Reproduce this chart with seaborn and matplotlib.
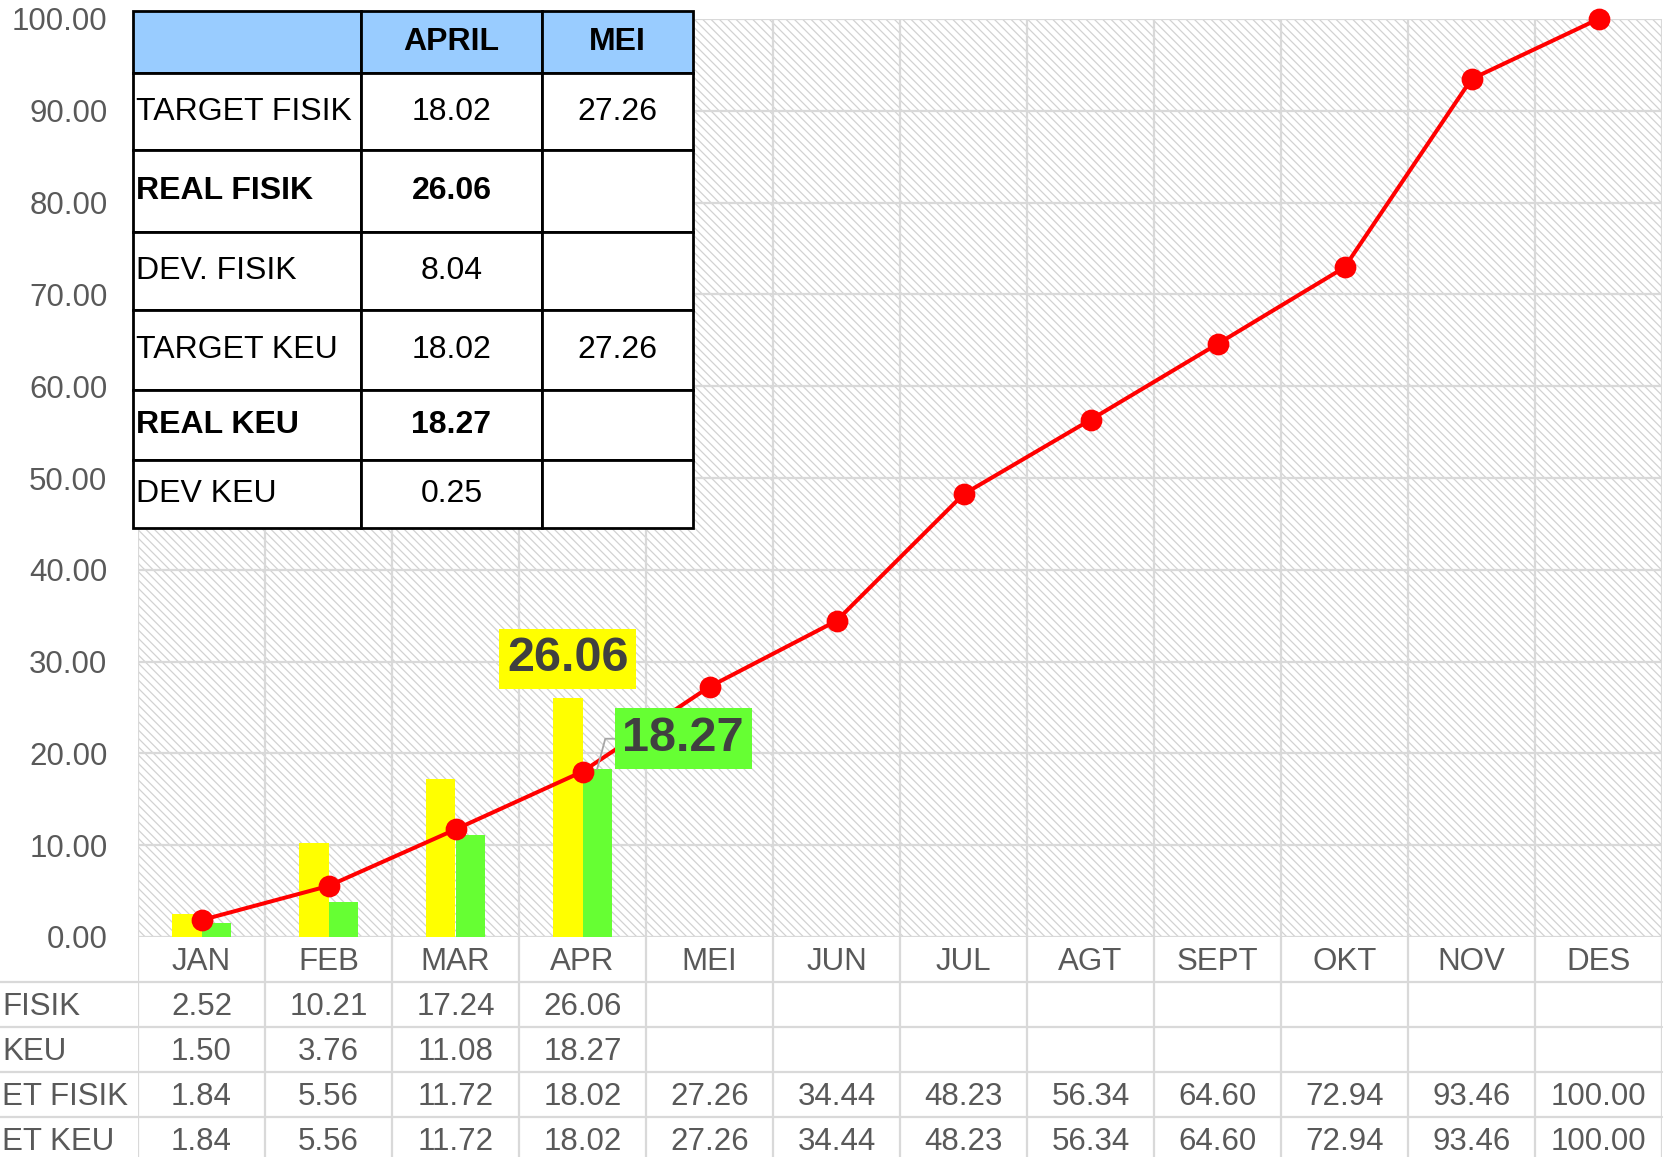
import numpy as np
import pandas as pd
import matplotlib
matplotlib.use("Agg")
import matplotlib.pyplot as plt
import matplotlib.transforms as mtransforms
from matplotlib.patches import Rectangle
from matplotlib.lines import Line2D
from matplotlib.table import Table
import seaborn as sns

# data
months = ["JAN", "FEB", "MAR", "APR", "MEI", "JUN", "JUL", "AGT", "SEPT", "OKT", "NOV", "DES"]
real_fisik = [2.52, 10.21, 17.24, 26.06]
real_keu = [1.50, 3.76, 11.08, 18.27]
target_fisik = [1.84, 5.56, 11.72, 18.02, 27.26, 34.44, 48.23, 56.34, 64.60, 72.94, 93.46, 100.00]
target_keu = [1.84, 5.56, 11.72, 18.02, 27.26, 34.44, 48.23, 56.34, 64.60, 72.94, 93.46, 100.00]
row_labels = ["FISIK", "KEU", "ET FISIK", "ET KEU"]

# summary box in the top left corner
summary_cols = ["", "APRIL", "MEI"]
summary_rows = ["TARGET FISIK", "REAL FISIK", "DEV. FISIK", "TARGET KEU", "REAL KEU", "DEV KEU"]
summary_april = ["18.02", "26.06", "8.04", "18.02", "18.27", "0.25"]
summary_mei = ["27.26", "", "", "27.26", "", ""]
bold_rows = ["REAL FISIK", "REAL KEU"]

sns.set_theme(style="white")
plt.rcParams["font.family"] = ["Liberation Sans", "DejaVu Sans"]
plt.rcParams["hatch.linewidth"] = 0.9

W, H = 1666, 1157
grid_c = "#D9D9D9"
txt_c = "#595959"
fs = 22.5

fig = plt.figure(figsize=(W / 100, H / 100), dpi=100)
fig.patch.set_facecolor("white")

# main chart area
ax = fig.add_axes([138 / W, 1 - 937 / H, 1524 / W, 918 / H])
ax.add_patch(Rectangle((0, 0), 1, 1, transform=ax.transAxes, facecolor="white",
                       edgecolor="#D2D2D2", hatch="\\\\\\\\", lw=0, zorder=0.2))

bars = pd.DataFrame({
    "month": months[:len(real_fisik)] * 2,
    "seri": ["FISIK"] * len(real_fisik) + ["KEU"] * len(real_keu),
    "nilai": real_fisik + real_keu,
})
sns.barplot(data=bars, x="month", y="nilai", hue="seri", order=months,
            hue_order=["FISIK", "KEU"], palette={"FISIK": "#FFFF00", "KEU": "#66FF33"},
            saturation=1, width=0.46, gap=0, linewidth=0, legend=False, ax=ax, zorder=2)

sns.pointplot(x=months, y=target_fisik, order=months, color="#FF0000", markers="o",
              linestyles="-", markersize=13.5, linewidth=2.9, errorbar=None,
              ax=ax, zorder=4, clip_on=False)

ax.set_xlim(-0.5, 11.5)
ax.set_ylim(0, 100)
ax.set_xlabel("")
ax.set_ylabel("")
ax.set_yticks(np.arange(0, 101, 10))
ax.set_yticklabels([f"{v:.2f}" for v in np.arange(0, 101, 10)])
ax.set_xticks([])
ax.set_xticks(np.arange(-0.5, 12, 1), minor=True)
ax.set_axisbelow(True)
ax.grid(True, axis="y", which="major", color=grid_c, lw=1.6)
ax.grid(True, axis="x", which="minor", color=grid_c, lw=1.6)
ax.tick_params(axis="both", which="both", length=0)
ax.tick_params(axis="y", pad=22, labelsize=fs, labelcolor=txt_c)
for s in ax.spines.values():
    s.set_visible(False)

# data labels for the April bars
fb = ax.containers[0][len(real_fisik) - 1]
kb = ax.containers[1][len(real_keu) - 1]
ax.annotate(f"{real_fisik[-1]:.2f}", xy=(fb.get_x() + fb.get_width() / 2, fb.get_height()),
            xytext=(0, 28), textcoords="offset points", ha="center", va="center",
            fontsize=35, fontweight="bold", color="#404040", zorder=6,
            bbox=dict(boxstyle="square,pad=0.16", fc="#FFFF00", ec="none"))
ax.annotate(f"{real_keu[-1]:.2f}", xy=(kb.get_x() + kb.get_width() / 2, kb.get_height()),
            xytext=(62, 22), textcoords="offset points", ha="center", va="center",
            fontsize=35, fontweight="bold", color="#404040", zorder=6,
            bbox=dict(boxstyle="square,pad=0.16", fc="#66FF33", ec="none"),
            arrowprops=dict(arrowstyle="-", color="#A6A6A6", lw=1.3, shrinkA=0, shrinkB=0,
                            connectionstyle="angle,angleA=0,angleB=75,rad=0"))

# data table under the chart
tax = fig.add_axes([138 / W, 0, 1524 / W, 220 / H])
tax.set_xlim(-0.5, 11.5)
tax.set_ylim(220 / 45, 0)
tax.axis("off")
for b in np.arange(-0.5, 12, 1):
    tax.axvline(b, color=grid_c, lw=1.6)
blend = mtransforms.blended_transform_factory(fig.transFigure, tax.transData)
for r in range(1, 5):
    tax.add_line(Line2D([0, 1662 / W], [r, r], transform=blend, color=grid_c, lw=1.6, clip_on=False))

mid = 0.56
for i, m in enumerate(months):
    tax.text(i, mid, m, ha="center", va="center", fontsize=fs, color=txt_c)
table_rows = [real_fisik, real_keu, target_fisik, target_keu]
for r, (lab, vals) in enumerate(zip(row_labels, table_rows), start=1):
    tax.text(2 / W, r + mid, lab, transform=blend, ha="left", va="center", fontsize=fs, color=txt_c)
    for i, v in enumerate(vals):
        tax.text(i, r + mid, f"{v:.2f}", ha="center", va="center", fontsize=fs, color=txt_c)

# summary table
sax = fig.add_axes([133 / W, 1 - 528 / H, 560 / W, 517 / H])
sax.axis("off")
col_w = [228, 182, 151]
row_h = [62, 77, 82, 78, 80, 70, 68]
tab = Table(sax, bbox=[0, 0, 1, 1])
tab.auto_set_font_size(False)
cells = [summary_cols] + [[a, b, c] for a, b, c in zip(summary_rows, summary_april, summary_mei)]
for r, row in enumerate(cells):
    for c, val in enumerate(row):
        cell = tab.add_cell(r, c, col_w[c], row_h[r], text=val,
                            loc="left" if c == 0 else "center",
                            facecolor="#99CCFF" if r == 0 else "white", edgecolor="black")
        cell.PAD = 0.012
        cell.set_linewidth(2)
        t = cell.get_text()
        t.set_fontsize(23)
        t.set_color("black")
        if r == 0 or (r > 0 and row[0] in bold_rows):
            t.set_fontweight("bold")
sax.add_table(tab)
tab.set_zorder(10)

fig.savefig("out.png", dpi=100)
